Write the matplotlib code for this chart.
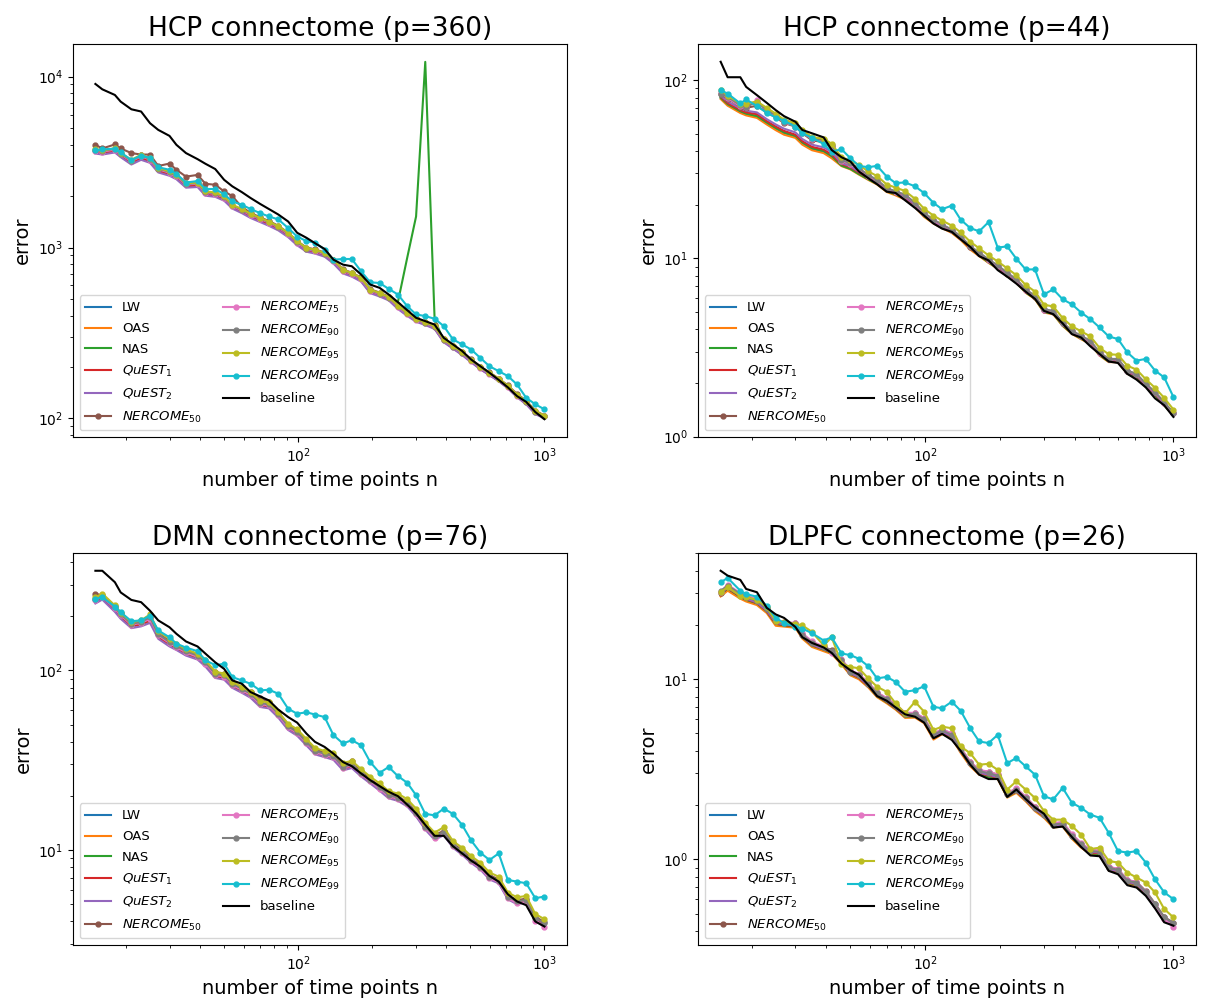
import matplotlib
matplotlib.use("Agg")
import matplotlib.pyplot as plt

# number of time points (log-spaced grid shared by every panel)
n_points = [15, 16, 18, 19, 21, 23, 25, 27, 30, 32, 35, 39, 42, 46, 50, 54, 59, 64, 70, 76,
            83, 91, 99, 108, 117, 128, 139, 152, 165, 180, 196, 214, 233, 254, 277, 301, 328,
            358, 390, 425, 463, 504, 549, 598, 652, 710, 774, 843, 918, 1000]

method_names = ["LW", "OAS", "NAS", "$QuEST_1$", "$QuEST_2$", "$NERCOME_{50}$",
                "$NERCOME_{75}$", "$NERCOME_{90}$", "$NERCOME_{95}$", "$NERCOME_{99}$", "baseline"]

# ---- HCP connectome (p=360)
hcp360_lw = [3620, 3580, 3690, 3450, 3130, 3350, 3200, 2810, 2690, 2570, 2290, 2310, 2050, 2020, 1920, 1720, 1620, 1520, 1440, 1370, 1290, 1180, 1050, 962, 940, 900, 822, 718, 688, 643, 550, 526, 499, 444, 404, 373, 357, 338, 283, 259, 238, 216, 196, 181, 167, 152, 135, 123, 108, 102]
hcp360_oas = [3580, 3530, 3640, 3410, 3100, 3310, 3170, 2790, 2670, 2550, 2270, 2290, 2040, 2010, 1910, 1710, 1610, 1510, 1430, 1360, 1280, 1170, 1045, 958, 936, 896, 818, 715, 685, 640, 548, 524, 497, 442, 402, 372, 356, 337, 282, 258, 237, 215, 195, 180, 166, 151, 134, 122, 107, 101]
hcp360_nas = [3650, 3600, 3720, 3480, 3160, 3380, 3230, 2840, 2720, 2600, 2310, 2330, 2070, 2040, 1940, 1730, 1630, 1530, 1450, 1380, 1300, 1190, 1060, 970, 948, 907, 828, 724, 693, 648, 553, 529, 502, 480, 870, 1520, 12200, 380, 285, 261, 239, 217, 197, 182, 168, 153, 136, 124, 108, 102]
hcp360_quest1 = [3600, 3560, 3670, 3430, 3120, 3330, 3190, 2800, 2680, 2560, 2280, 2300, 2045, 2015, 1915, 1715, 1615, 1515, 1435, 1365, 1285, 1175, 1048, 960, 938, 898, 820, 716, 686, 641, 549, 525, 498, 443, 403, 372, 356, 337, 282, 258, 237, 215, 195, 180, 166, 151, 134, 122, 107, 101]
hcp360_quest2 = [3550, 3500, 3600, 3380, 3060, 3260, 3130, 2750, 2630, 2510, 2240, 2260, 2010, 1980, 1880, 1690, 1590, 1490, 1410, 1340, 1260, 1150, 1030, 945, 922, 884, 806, 705, 676, 632, 541, 517, 491, 437, 398, 368, 352, 334, 279, 256, 235, 213, 194, 179, 165, 150, 133, 121, 106, 100]
hcp360_n50 = [3990, 3800, 4010, 3800, 3570, 3500, 3500, 3000, 3100, 2850, 2600, 2660, 2360, 2330, 2130, 2000, 1720, 1600, 1500, 1430, 1340, 1220, 1090, 1000, 975, 935, 850, 745, 712, 668, 570, 545, 516, 460, 417, 385, 367, 350, 292, 266, 245, 222, 201, 186, 171, 156, 139, 127, 111, 104]
hcp360_n75 = [3680, 3640, 3740, 3510, 3200, 3420, 3270, 2870, 2740, 2620, 2340, 2360, 2090, 2060, 1960, 1750, 1650, 1550, 1470, 1400, 1310, 1200, 1070, 978, 956, 914, 836, 730, 699, 654, 559, 534, 507, 451, 410, 378, 361, 342, 286, 262, 241, 218, 198, 183, 169, 153, 136, 124, 109, 103]
hcp360_n90 = [3720, 3680, 3780, 3540, 3230, 3460, 3300, 2900, 2770, 2650, 2360, 2380, 2110, 2080, 1975, 1765, 1665, 1565, 1480, 1410, 1320, 1210, 1080, 986, 964, 922, 843, 736, 705, 659, 563, 538, 510, 454, 412, 380, 363, 344, 288, 263, 242, 219, 199, 184, 170, 154, 137, 125, 109, 103]
hcp360_n95 = [3760, 3700, 3810, 3570, 3260, 3490, 3330, 2920, 2790, 2670, 2380, 2400, 2130, 2100, 1990, 1780, 1680, 1580, 1490, 1420, 1330, 1220, 1090, 994, 972, 929, 849, 742, 710, 664, 567, 542, 514, 457, 415, 383, 366, 347, 290, 265, 244, 221, 200, 185, 171, 155, 138, 126, 110, 104]
hcp360_n99 = [3700, 3750, 3790, 3600, 3250, 3450, 3350, 2950, 2850, 2700, 2400, 2450, 2200, 2200, 2050, 1860, 1780, 1680, 1590, 1520, 1460, 1300, 1160, 1090, 1070, 972, 849, 857, 857, 726, 626, 620, 573, 531, 454, 406, 397, 383, 347, 290, 271, 253, 226, 202, 189, 177, 158, 132, 121, 113]
hcp360_base = [9060, 8430, 7810, 7140, 6440, 6250, 5340, 4880, 4500, 3990, 3570, 3290, 3090, 2880, 2490, 2280, 2110, 1950, 1800, 1680, 1560, 1420, 1220, 1140, 1060, 980, 849, 794, 777, 695, 607, 581, 531, 479, 430, 388, 371, 354, 296, 271, 248, 221, 202, 185, 168, 152, 135, 125, 109, 99]

# ---- HCP connectome (p=44)
hcp44_lw = [79.5, 73.0, 66.5, 64.5, 62.5, 57.5, 53.5, 50.5, 48.3, 44.3, 41.2, 39.7, 37.2, 33.6, 32.2, 30.1, 28.0, 26.4, 23.9, 22.9, 21.7, 19.6, 17.3, 15.9, 15.0, 14.0, 12.8, 11.3, 10.4, 9.55, 8.84, 8.03, 7.37, 6.48, 5.96, 5.02, 4.91, 4.22, 3.80, 3.55, 3.34, 2.88, 2.65, 2.65, 2.27, 2.18, 1.92, 1.72, 1.51, 1.32]
hcp44_oas = [78.5, 72.0, 65.5, 63.5, 61.5, 56.5, 52.5, 49.5, 47.5, 43.5, 40.5, 39.0, 36.5, 33.0, 31.6, 29.6, 27.6, 26.0, 23.6, 22.6, 21.4, 19.4, 17.1, 15.7, 14.8, 13.9, 12.7, 11.2, 10.3, 9.45, 8.75, 7.95, 7.30, 6.42, 5.90, 4.97, 4.86, 4.18, 3.77, 3.52, 3.31, 2.85, 2.62, 2.62, 2.25, 2.16, 1.90, 1.71, 1.50, 1.31]
hcp44_nas = [80.0, 73.5, 67.0, 65.0, 63.0, 58.0, 54.0, 51.0, 48.8, 44.8, 41.6, 40.1, 37.6, 33.2, 31.8, 29.8, 27.8, 26.2, 23.8, 22.9, 21.7, 19.6, 17.3, 15.9, 15.0, 14.1, 12.9, 11.4, 10.4, 9.50, 8.80, 8.00, 7.35, 6.45, 5.95, 5.00, 4.90, 4.20, 3.80, 3.55, 3.33, 2.87, 2.64, 2.64, 2.26, 2.17, 1.91, 1.72, 1.50, 1.32]
hcp44_quest1 = [81.0, 74.5, 68.0, 66.0, 64.5, 59.0, 55.0, 52.0, 49.5, 45.5, 42.3, 40.8, 38.3, 33.9, 32.5, 30.4, 28.3, 26.6, 24.1, 23.1, 21.9, 19.8, 17.5, 16.0, 15.1, 14.2, 13.0, 11.4, 10.5, 9.60, 8.90, 8.08, 7.42, 6.53, 6.00, 5.05, 4.94, 4.25, 3.83, 3.58, 3.36, 2.90, 2.67, 2.67, 2.29, 2.20, 1.93, 1.74, 1.52, 1.33]
hcp44_quest2 = [82.0, 76.0, 69.5, 67.5, 66.0, 60.5, 56.5, 53.5, 51.0, 46.8, 43.5, 42.0, 39.5, 34.3, 32.9, 30.8, 28.6, 26.9, 24.3, 23.3, 22.1, 20.0, 17.7, 16.2, 15.2, 14.3, 13.1, 11.5, 10.6, 9.68, 8.97, 8.15, 7.48, 6.58, 6.05, 5.09, 4.98, 4.29, 3.86, 3.61, 3.39, 2.92, 2.69, 2.69, 2.31, 2.21, 1.95, 1.75, 1.53, 1.34]
hcp44_n50 = [83.5, 79.0, 71.0, 70.0, 72.0, 66.0, 62.0, 57.5, 55.0, 50.5, 46.0, 45.0, 42.0, 35.2, 33.8, 31.7, 29.1, 27.3, 24.6, 23.6, 22.6, 20.3, 17.9, 16.4, 15.4, 14.4, 13.2, 11.6, 10.7, 9.80, 9.05, 8.23, 7.56, 6.65, 6.10, 5.15, 5.03, 4.34, 3.90, 3.65, 3.42, 2.95, 2.71, 2.71, 2.33, 2.23, 1.97, 1.77, 1.55, 1.35]
hcp44_n75 = [85.5, 79.5, 71.5, 70.5, 77.0, 67.0, 63.0, 58.0, 55.5, 51.0, 46.8, 45.8, 42.8, 35.4, 33.9, 31.9, 29.2, 27.4, 24.7, 23.7, 22.7, 20.4, 17.9, 16.4, 15.4, 14.5, 13.2, 11.7, 10.7, 9.82, 9.10, 8.28, 7.60, 6.68, 6.13, 5.17, 5.05, 4.35, 3.91, 3.66, 3.43, 2.96, 2.72, 2.72, 2.34, 2.24, 1.97, 1.77, 1.55, 1.35]
hcp44_n90 = [84.2, 80.7, 72.5, 71.0, 75.7, 68.0, 63.7, 58.5, 56.1, 51.5, 47.2, 46.2, 43.3, 35.7, 34.2, 32.1, 29.4, 27.6, 24.8, 23.8, 22.8, 20.5, 18.0, 16.5, 15.5, 14.5, 13.3, 11.7, 10.8, 9.87, 9.14, 8.31, 7.63, 6.71, 6.16, 5.19, 5.08, 4.37, 3.93, 3.68, 3.45, 2.97, 2.73, 2.73, 2.35, 2.25, 1.98, 1.78, 1.56, 1.36]
hcp44_n95 = [88.7, 82.0, 74.0, 74.0, 76.0, 70.0, 65.0, 60.0, 57.5, 52.5, 48.0, 47.0, 44.0, 37.0, 35.5, 33.5, 30.8, 29.0, 26.0, 25.0, 23.9, 21.6, 19.0, 17.4, 16.3, 15.3, 14.0, 12.4, 11.4, 10.4, 9.62, 8.80, 8.05, 7.10, 6.52, 5.50, 5.38, 4.63, 4.16, 3.90, 3.65, 3.15, 2.90, 2.88, 2.50, 2.38, 2.10, 1.88, 1.65, 1.42]
hcp44_n99 = [87.9, 84.2, 74.1, 78.0, 71.6, 65.7, 61.8, 59.3, 54.9, 50.4, 47.6, 43.9, 39.8, 41.0, 36.5, 33.1, 32.5, 33.1, 28.8, 26.5, 26.7, 25.4, 23.3, 20.5, 18.9, 19.8, 16.5, 14.8, 14.2, 16.0, 11.5, 11.7, 9.96, 8.68, 8.68, 6.29, 6.71, 5.90, 5.53, 4.97, 4.56, 4.10, 3.65, 3.53, 2.97, 2.67, 2.73, 2.35, 2.15, 1.67]
hcp44_base = [127, 104, 104, 91.8, 82.5, 74.7, 68.0, 62.9, 58.5, 52.6, 50.4, 47.8, 40.6, 37.0, 35.0, 30.8, 28.2, 26.1, 23.7, 23.3, 21.2, 19.2, 17.4, 15.7, 14.7, 14.1, 12.8, 11.6, 10.3, 9.75, 8.60, 7.90, 7.22, 6.51, 5.93, 5.08, 4.87, 4.32, 3.76, 3.60, 3.21, 2.91, 2.64, 2.59, 2.25, 2.09, 1.89, 1.64, 1.50, 1.29]

# ---- DMN connectome (p=76)
dmn_lw = [240, 252, 216, 198, 176, 180, 188, 153, 139, 132, 124, 117, 107, 92.5, 90.5, 81.5, 76.5, 71.8, 63.8, 62.6, 55.6, 47.5, 44.1, 38.9, 34.7, 33.5, 32.4, 28.3, 29.1, 26.2, 23.9, 21.8, 19.7, 19.1, 17.8, 15.6, 13.2, 11.6, 12.3, 10.5, 9.57, 8.61, 7.91, 6.96, 6.62, 5.40, 5.06, 5.17, 4.08, 3.84]
dmn_oas = [242, 254, 218, 199, 177, 181, 189, 154, 140, 133, 124, 118, 108, 93.0, 91.0, 82.0, 77.0, 72.2, 64.2, 63.0, 55.9, 47.7, 44.3, 39.1, 34.9, 33.7, 32.6, 28.5, 29.3, 26.3, 24.0, 21.9, 19.8, 19.2, 17.9, 15.7, 13.3, 11.7, 12.4, 10.5, 9.62, 8.66, 7.95, 7.00, 6.66, 5.43, 5.09, 5.20, 4.10, 3.86]
dmn_nas = [244, 256, 219, 201, 178, 182, 191, 155, 141, 134, 125, 118, 108, 93.5, 91.5, 82.4, 77.4, 72.5, 64.5, 63.2, 56.1, 47.9, 44.5, 39.3, 35.0, 33.8, 32.7, 28.6, 29.4, 26.4, 24.1, 22.0, 19.9, 19.3, 18.0, 15.8, 13.3, 11.7, 12.4, 10.6, 9.66, 8.69, 7.98, 7.03, 6.68, 5.45, 5.11, 5.22, 4.12, 3.87]
dmn_quest1 = [243, 255, 218, 200, 177, 181, 190, 154, 140, 133, 125, 118, 108, 93.2, 91.2, 82.2, 77.2, 72.3, 64.3, 63.1, 56.0, 47.8, 44.4, 39.2, 35.0, 33.7, 32.6, 28.5, 29.3, 26.3, 24.0, 21.9, 19.8, 19.2, 17.9, 15.7, 13.3, 11.7, 12.4, 10.5, 9.64, 8.67, 7.96, 7.01, 6.67, 5.44, 5.10, 5.21, 4.11, 3.86]
dmn_quest2 = [236, 248, 212, 194, 172, 176, 184, 150, 136, 130, 121, 115, 105, 90.8, 88.9, 80.0, 75.1, 70.5, 62.6, 61.5, 54.6, 46.6, 43.3, 38.2, 34.1, 32.9, 31.8, 27.8, 28.6, 25.7, 23.5, 21.4, 19.4, 18.8, 17.5, 15.4, 13.0, 11.4, 12.1, 10.3, 9.42, 8.48, 7.79, 6.86, 6.52, 5.32, 4.99, 5.10, 4.03, 3.79]
dmn_n50 = [267, 262, 228, 208, 186, 189, 196, 161, 146, 139, 130, 123, 113, 97.5, 95.5, 86.0, 80.5, 75.5, 70.0, 67.0, 58.5, 49.8, 46.2, 40.7, 36.2, 35.0, 33.9, 30.0, 31.2, 27.4, 24.9, 22.7, 20.6, 19.9, 18.5, 16.3, 13.7, 12.1, 12.8, 10.9, 9.95, 8.95, 8.22, 7.23, 6.87, 5.60, 5.25, 5.37, 4.24, 3.98]
dmn_n75 = [246, 258, 222, 203, 180, 184, 194, 157, 142, 135, 126, 119, 109, 94.5, 92.5, 83.0, 78.0, 73.0, 65.0, 63.8, 56.5, 48.2, 44.8, 39.5, 35.0, 33.9, 32.8, 28.7, 29.6, 26.5, 24.2, 22.0, 19.9, 19.3, 18.0, 15.8, 13.3, 11.7, 12.4, 10.5, 9.65, 8.65, 7.95, 6.98, 6.64, 5.40, 5.05, 5.15, 4.05, 3.72]
dmn_n90 = [250, 261, 225, 206, 182, 186, 198, 159, 144, 137, 128, 121, 111, 95.8, 93.8, 84.3, 79.1, 74.2, 65.9, 64.7, 57.4, 48.9, 45.4, 40.0, 35.6, 34.4, 33.3, 29.0, 30.0, 26.9, 24.5, 22.3, 20.2, 19.6, 18.2, 16.0, 13.5, 11.9, 12.6, 10.7, 9.79, 8.80, 8.08, 7.11, 6.76, 5.51, 5.17, 5.28, 4.17, 3.92]
dmn_n95 = [255, 268, 230, 210, 186, 190, 205, 165, 150, 141, 131, 124, 114, 98.5, 96.0, 86.5, 81.0, 76.0, 67.5, 66.3, 58.8, 50.5, 47.0, 41.5, 37.0, 35.6, 34.5, 30.5, 31.4, 28.2, 25.6, 23.5, 21.3, 20.6, 19.2, 17.0, 14.2, 12.5, 13.4, 11.2, 10.3, 9.25, 8.50, 7.50, 7.10, 5.80, 5.45, 5.55, 4.40, 4.12]
dmn_n99 = [250, 255, 227, 211, 188, 190, 202, 167, 153, 141, 134, 128, 114, 107, 109, 91.8, 88.0, 84.3, 77.4, 78.1, 74.2, 61.2, 57.4, 58.5, 56.8, 55.0, 43.6, 39.2, 40.9, 38.3, 30.9, 26.9, 29.0, 25.8, 23.7, 20.2, 15.9, 15.6, 17.0, 15.9, 13.8, 11.3, 9.67, 8.80, 9.58, 6.81, 6.67, 6.53, 5.39, 5.51]
dmn_base = [359, 359, 310, 272, 247, 240, 215, 190, 174, 160, 145, 136, 124, 111, 102, 88.0, 84.3, 75.8, 71.7, 68.1, 60.5, 55.0, 51.2, 44.5, 40.0, 37.5, 34.4, 30.9, 29.3, 26.7, 24.5, 22.7, 21.1, 19.95, 17.9, 16.0, 13.8, 12.0, 12.0, 10.5, 9.58, 8.73, 8.08, 7.17, 6.67, 5.67, 5.17, 4.93, 4.00, 3.75]

# ---- DLPFC connectome (p=26)
dlpfc_lw = [29.2, 31.5, 28.4, 27.3, 26.1, 23.6, 20.1, 19.8, 19.5, 17.0, 15.3, 14.5, 13.9, 12.2, 10.6, 10.1, 9.10, 8.02, 7.42, 6.84, 6.16, 6.18, 5.75, 4.70, 5.00, 4.74, 3.94, 3.31, 2.97, 2.90, 2.81, 2.22, 2.36, 2.12, 1.87, 1.72, 1.51, 1.53, 1.31, 1.17, 1.08, 1.07, 0.872, 0.846, 0.736, 0.721, 0.641, 0.549, 0.463, 0.433]
dlpfc_oas = [28.8, 31.0, 28.0, 27.0, 25.8, 23.3, 19.8, 19.6, 19.3, 16.8, 15.1, 14.3, 13.8, 12.1, 10.5, 10.0, 9.00, 7.95, 7.35, 6.78, 6.10, 6.12, 5.70, 4.62, 4.95, 4.70, 3.90, 3.28, 2.95, 2.88, 2.79, 2.20, 2.34, 2.10, 1.85, 1.70, 1.50, 1.52, 1.30, 1.16, 1.07, 1.06, 0.865, 0.840, 0.730, 0.716, 0.636, 0.545, 0.460, 0.430]
dlpfc_nas = [29.6, 31.9, 28.7, 27.6, 26.4, 23.8, 20.3, 19.9, 19.6, 17.1, 15.4, 14.6, 14.0, 12.3, 10.7, 10.2, 9.15, 8.05, 7.45, 6.87, 6.20, 6.22, 5.80, 4.78, 5.05, 4.78, 3.98, 3.33, 3.00, 2.86, 2.83, 2.22, 2.38, 2.13, 1.88, 1.73, 1.52, 1.54, 1.32, 1.18, 1.08, 1.07, 0.875, 0.850, 0.740, 0.724, 0.644, 0.551, 0.465, 0.435]
dlpfc_quest1 = [29.8, 32.0, 28.9, 27.8, 26.5, 23.9, 20.4, 20.0, 19.7, 17.2, 15.5, 14.7, 14.1, 12.4, 10.8, 10.2, 9.20, 8.10, 7.50, 6.90, 6.24, 6.25, 5.83, 4.80, 5.07, 4.80, 4.00, 3.35, 3.01, 2.92, 2.84, 2.24, 2.39, 2.14, 1.89, 1.74, 1.53, 1.55, 1.33, 1.18, 1.09, 1.08, 0.880, 0.855, 0.744, 0.728, 0.648, 0.554, 0.467, 0.436]
dlpfc_quest2 = [30.0, 32.3, 29.1, 28.0, 26.7, 24.1, 20.6, 20.1, 19.9, 17.3, 15.6, 14.7, 14.2, 12.5, 10.8, 10.3, 9.25, 8.15, 7.55, 6.95, 6.28, 6.28, 5.86, 4.83, 5.10, 4.83, 4.02, 3.37, 3.03, 2.95, 2.86, 2.25, 2.40, 2.15, 1.90, 1.75, 1.54, 1.56, 1.34, 1.19, 1.10, 1.09, 0.885, 0.860, 0.748, 0.732, 0.652, 0.557, 0.469, 0.438]
dlpfc_n50 = [30.2, 33.0, 29.5, 28.6, 27.4, 24.8, 21.2, 20.6, 20.4, 17.8, 16.0, 15.1, 14.5, 12.8, 11.1, 10.6, 9.55, 8.40, 7.80, 7.18, 6.48, 6.47, 6.05, 4.95, 5.25, 4.97, 4.13, 3.46, 3.12, 3.06, 2.95, 2.32, 2.47, 2.21, 1.95, 1.79, 1.58, 1.60, 1.37, 1.22, 1.12, 1.11, 0.905, 0.880, 0.765, 0.748, 0.665, 0.568, 0.478, 0.445]
dlpfc_n75 = [30.5, 33.5, 30.0, 29.0, 28.0, 25.0, 21.3, 20.8, 20.5, 18.0, 16.2, 15.2, 14.0, 12.9, 11.2, 10.7, 9.60, 8.45, 7.85, 7.22, 6.52, 6.50, 6.08, 4.98, 5.28, 5.00, 4.15, 3.48, 3.13, 3.07, 2.96, 2.33, 2.48, 2.22, 1.96, 1.80, 1.59, 1.61, 1.38, 1.23, 1.13, 1.12, 0.910, 0.885, 0.768, 0.750, 0.662, 0.560, 0.465, 0.420]
dlpfc_n90 = [30.8, 33.1, 29.7, 28.5, 27.3, 24.6, 21.0, 20.5, 20.3, 17.7, 15.9, 15.0, 14.4, 12.7, 11.0, 10.5, 9.46, 8.33, 7.72, 7.10, 6.41, 6.41, 5.98, 4.91, 5.19, 4.91, 4.08, 3.42, 3.08, 3.01, 2.91, 2.29, 2.44, 2.19, 1.93, 1.77, 1.56, 1.58, 1.35, 1.21, 1.11, 1.10, 0.899, 0.873, 0.759, 0.743, 0.660, 0.564, 0.476, 0.443]
dlpfc_n95 = [30.4, 32.4, 29.0, 28.5, 27.6, 25.1, 21.0, 20.7, 20.3, 19.9, 18.3, 15.4, 17.1, 12.2, 11.7, 11.5, 10.1, 9.08, 8.51, 7.34, 6.46, 7.50, 6.60, 5.23, 5.45, 5.34, 4.23, 3.88, 3.35, 3.39, 3.14, 2.44, 2.71, 2.44, 2.19, 1.85, 1.66, 1.66, 1.53, 1.37, 1.14, 1.16, 0.979, 0.959, 0.844, 0.793, 0.743, 0.655, 0.530, 0.476]
dlpfc_n99 = [34.5, 36.5, 31.0, 29.7, 28.7, 25.6, 21.9, 20.5, 19.6, 19.1, 18.0, 16.4, 17.1, 13.9, 13.6, 13.0, 11.8, 10.1, 10.3, 9.67, 8.51, 8.69, 9.14, 7.03, 6.89, 7.50, 6.68, 5.34, 4.51, 4.42, 4.91, 3.42, 3.65, 3.28, 2.95, 2.24, 2.15, 2.49, 2.06, 1.93, 1.77, 1.70, 1.40, 1.11, 1.09, 1.11, 0.959, 0.775, 0.655, 0.601]
dlpfc_base = [40.0, 37.6, 35.6, 31.7, 30.4, 24.9, 22.9, 21.9, 19.5, 17.1, 15.9, 15.0, 14.0, 12.2, 11.2, 10.6, 9.27, 8.06, 7.59, 6.97, 6.38, 6.19, 5.74, 4.70, 4.97, 4.60, 4.00, 3.35, 2.95, 2.79, 2.79, 2.22, 2.44, 2.16, 1.94, 1.79, 1.50, 1.52, 1.33, 1.17, 1.05, 1.04, 0.862, 0.826, 0.718, 0.697, 0.627, 0.534, 0.447, 0.428]

panels = [
    ("HCP connectome (p=360)",
     [hcp360_lw, hcp360_oas, hcp360_nas, hcp360_quest1, hcp360_quest2, hcp360_n50,
      hcp360_n75, hcp360_n90, hcp360_n95, hcp360_n99, hcp360_base]),
    ("HCP connectome (p=44)",
     [hcp44_lw, hcp44_oas, hcp44_nas, hcp44_quest1, hcp44_quest2, hcp44_n50,
      hcp44_n75, hcp44_n90, hcp44_n95, hcp44_n99, hcp44_base]),
    ("DMN connectome (p=76)",
     [dmn_lw, dmn_oas, dmn_nas, dmn_quest1, dmn_quest2, dmn_n50,
      dmn_n75, dmn_n90, dmn_n95, dmn_n99, dmn_base]),
    ("DLPFC connectome (p=26)",
     [dlpfc_lw, dlpfc_oas, dlpfc_nas, dlpfc_quest1, dlpfc_quest2, dlpfc_n50,
      dlpfc_n75, dlpfc_n90, dlpfc_n95, dlpfc_n99, dlpfc_base]),
]

# axes rectangles [left, bottom, width, height] in figure fractions
axes_rects = [
    [0.0593, 0.5660, 0.4016, 0.3903],
    [0.5675, 0.5660, 0.4049, 0.3903],
    [0.0593, 0.0616, 0.4016, 0.3893],
    [0.5675, 0.0616, 0.4049, 0.3893],
]


def draw_panel(ax, title, series):
    for i, (name, values) in enumerate(zip(method_names, series)):
        if name == "baseline":
            ax.plot(n_points, values, color="black", label=name)
        elif "NERCOME" in name:
            ax.plot(n_points, values, ".-", color=f"C{i}", markersize=7, label=name)
        else:
            ax.plot(n_points, values, "-", color=f"C{i}", label=name)
    ax.set_xscale("log")
    ax.set_yscale("log")
    ax.set_title(title, fontsize=19)
    ax.set_xlabel("number of time points n", fontsize=14)
    ax.set_ylabel("error", fontsize=14)
    ax.tick_params(labelsize=10)
    ax.legend(loc="lower left", ncol=2, fontsize=9.5, labelspacing=0.6, columnspacing=1.6)


def main():
    fig = plt.figure(figsize=(12.3, 10.07), dpi=100)
    for rect, (title, series) in zip(axes_rects, panels):
        ax = fig.add_axes(rect)
        draw_panel(ax, title, series)
        if title == "HCP connectome (p=44)":
            ax.set_ylim(bottom=0.995)
    fig.savefig("out.png", dpi=100)
    plt.close(fig)


if __name__ == "__main__":
    main()
